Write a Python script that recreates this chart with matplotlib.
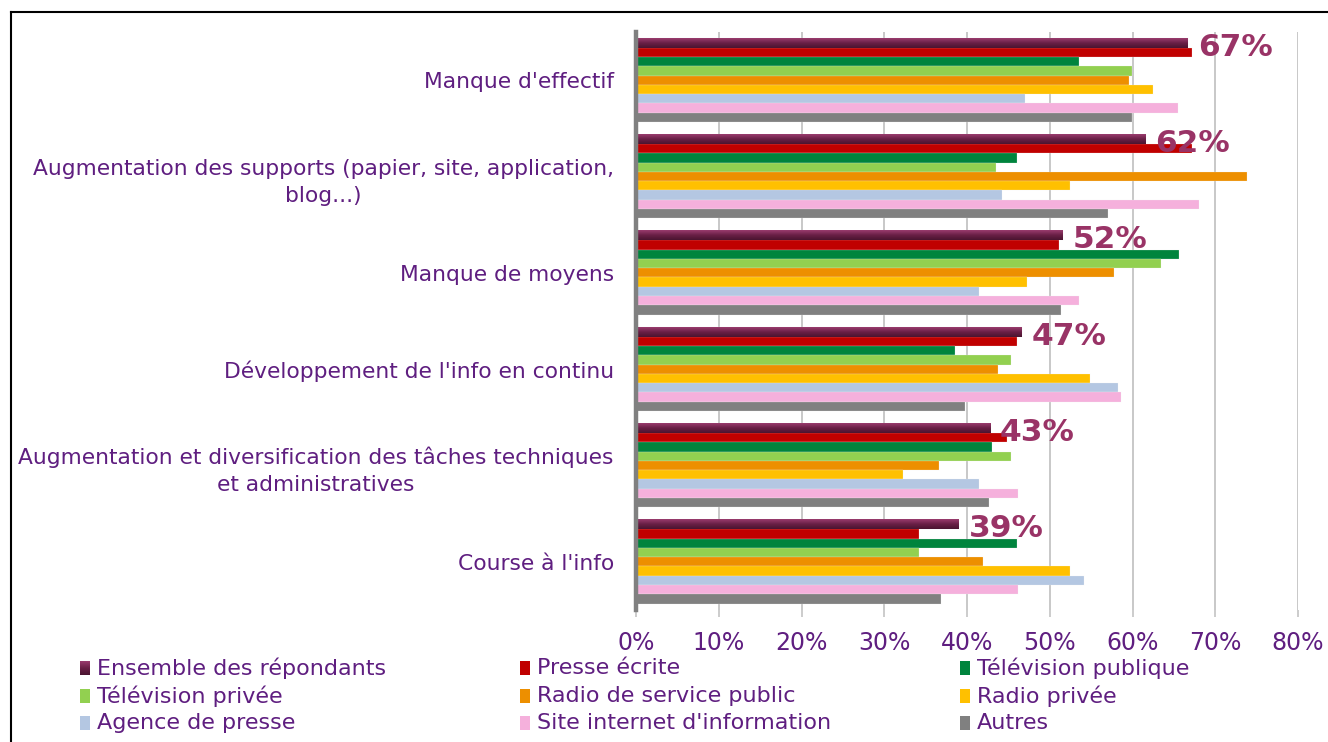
import numpy as np
import matplotlib
matplotlib.use("Agg")
import matplotlib.pyplot as plt
from matplotlib.colors import LinearSegmentedColormap
from matplotlib.patches import Rectangle
from matplotlib.lines import Line2D

categories = [
    "Manque d'effectif",
    "Augmentation des supports (papier, site, application,\nblog...)",
    "Manque de moyens",
    "Développement de l'info en continu",
    "Augmentation et diversification des tâches techniques\net administratives",
    "Course à l'info",
]
series_names = [
    "Ensemble des répondants", "Presse écrite", "Télévision publique",
    "Télévision privée", "Radio de service public", "Radio privée",
    "Agence de presse", "Site internet d'information", "Autres",
]
ensemble = [66.7, 61.6, 51.6, 46.6, 42.8, 39.0]
presse_ecrite = [67.2, 67.2, 51.1, 46.1, 44.8, 34.2]
tv_publique = [53.5, 46.1, 65.6, 38.5, 43.0, 46.1]
tv_privee = [59.9, 43.5, 63.5, 45.3, 45.3, 34.2]
radio_sp = [59.6, 73.8, 57.8, 43.7, 36.6, 41.9]
radio_privee = [62.5, 52.4, 47.3, 54.9, 32.3, 52.4]
agence = [47.0, 44.2, 41.5, 58.2, 41.5, 54.1]
site_internet = [65.5, 68.0, 53.5, 58.6, 46.2, 46.2]
autres = [59.9, 57.0, 51.4, 39.8, 42.7, 36.9]
xticks = [0, 10, 20, 30, 40, 50, 60, 70, 80]

series_values = [ensemble, presse_ecrite, tv_publique, tv_privee, radio_sp,
                 radio_privee, agence, site_internet, autres]
colors = ["#6E2447", "#C00000", "#00843D", "#92D050", "#ED8F00",
          "#FFC000", "#B4C7E2", "#F5B0DC", "#808080"]

text_color = "#5F1E80"
label_color = "#993366"
grad_cmap = LinearSegmentedColormap.from_list("ens", ["#9A3C6E", "#6A2046", "#4A1430"])

fig = plt.figure(figsize=(13.28, 7.42), dpi=100)
ax = fig.add_axes([636 / 1328, 1 - 610 / 742, (1298 - 636) / 1328, (610 - 32) / 742])

n = len(series_values)
bar_h = 0.87 / n
y = np.arange(len(categories))
containers = []
for i, (vals, c) in enumerate(zip(series_values, colors)):
    offs = y - 0.435 + bar_h * (i + 0.5)
    bc = ax.barh(offs, vals, height=bar_h, color=c, edgecolor="#F4F4F4",
                 linewidth=0.15, zorder=3)
    containers.append(bc)

ax.set_xlim(0, 80)
ax.set_ylim(len(categories) - 0.5, -0.5)

# gradient for the "Ensemble" bars
grad = np.linspace(0, 1, 64).reshape(-1, 1)
for p in containers[0].patches:
    x0, w = p.get_x(), p.get_width()
    y0, h = p.get_y(), p.get_height()
    p.set_facecolor("none")
    ax.imshow(grad, cmap=grad_cmap, aspect="auto", origin="upper",
              extent=(x0, x0 + w, y0 + h, y0), zorder=3.5, interpolation="bilinear")
ax.set_xlim(0, 80)
ax.set_ylim(len(categories) - 0.5, -0.5)

# value labels for the "Ensemble" bars
for p, v in zip(containers[0].patches, ensemble):
    ax.annotate(f"{v:.0f}%", xy=(p.get_x() + p.get_width(), p.get_y() + p.get_height() / 2),
                xytext=(7, -3), textcoords="offset points", va="center", ha="left",
                fontsize=22.5, fontweight="bold", color=label_color, zorder=5)

ax.set_xticks(xticks)
ax.set_xticklabels([f"{t}%" for t in xticks], color=text_color, fontsize=17)
ax.set_yticks(y)
ax.set_yticklabels(categories, color=text_color, fontsize=15.7,
                   multialignment="center", linespacing=1.45)
ax.tick_params(axis="y", length=0, pad=16)
ax.tick_params(axis="x", length=5, color="#C8C8C8", width=1.3, pad=10)
ax.grid(axis="x", color="#C8C8C8", linewidth=1.4, zorder=0)
ax.set_axisbelow(True)
for s in ["top", "right", "bottom"]:
    ax.spines[s].set_visible(False)
ax.spines["left"].set_color("#808080")
ax.spines["left"].set_linewidth(3.2)
ax.spines["left"].set_zorder(6)

# legend (row-major, 3 columns)
col_x = [80, 520, 960]
row_y = [668, 696, 723]
for i, (name, c) in enumerate(zip(series_names, colors)):
    r, k = divmod(i, 3)
    mx = col_x[k] / 1328
    my = 1 - (row_y[r] + 7) / 742
    mw, mh = 10 / 1328, 14 / 742
    if i == 0:
        lax = fig.add_axes([mx, my, mw, mh])
        lax.imshow(grad, cmap=grad_cmap, aspect="auto", interpolation="bilinear")
        lax.axis("off")
    else:
        fig.patches.append(Rectangle((mx, my), mw, mh, transform=fig.transFigure,
                                     facecolor=c, edgecolor="none"))
    fig.text((col_x[k] + 17) / 1328, 1 - row_y[r] / 742, name, color=text_color,
             fontsize=16, va="center", ha="left")

# outer frame
fig.add_artist(Line2D([10.5 / 1328, 10.5 / 1328], [1 - 12 / 742, 0], transform=fig.transFigure,
                      color="black", linewidth=1.5))
fig.add_artist(Line2D([10.5 / 1328, 1], [1 - 12 / 742, 1 - 12 / 742], transform=fig.transFigure,
                      color="black", linewidth=1.5))

fig.savefig("out.png", dpi=100, facecolor="white")
